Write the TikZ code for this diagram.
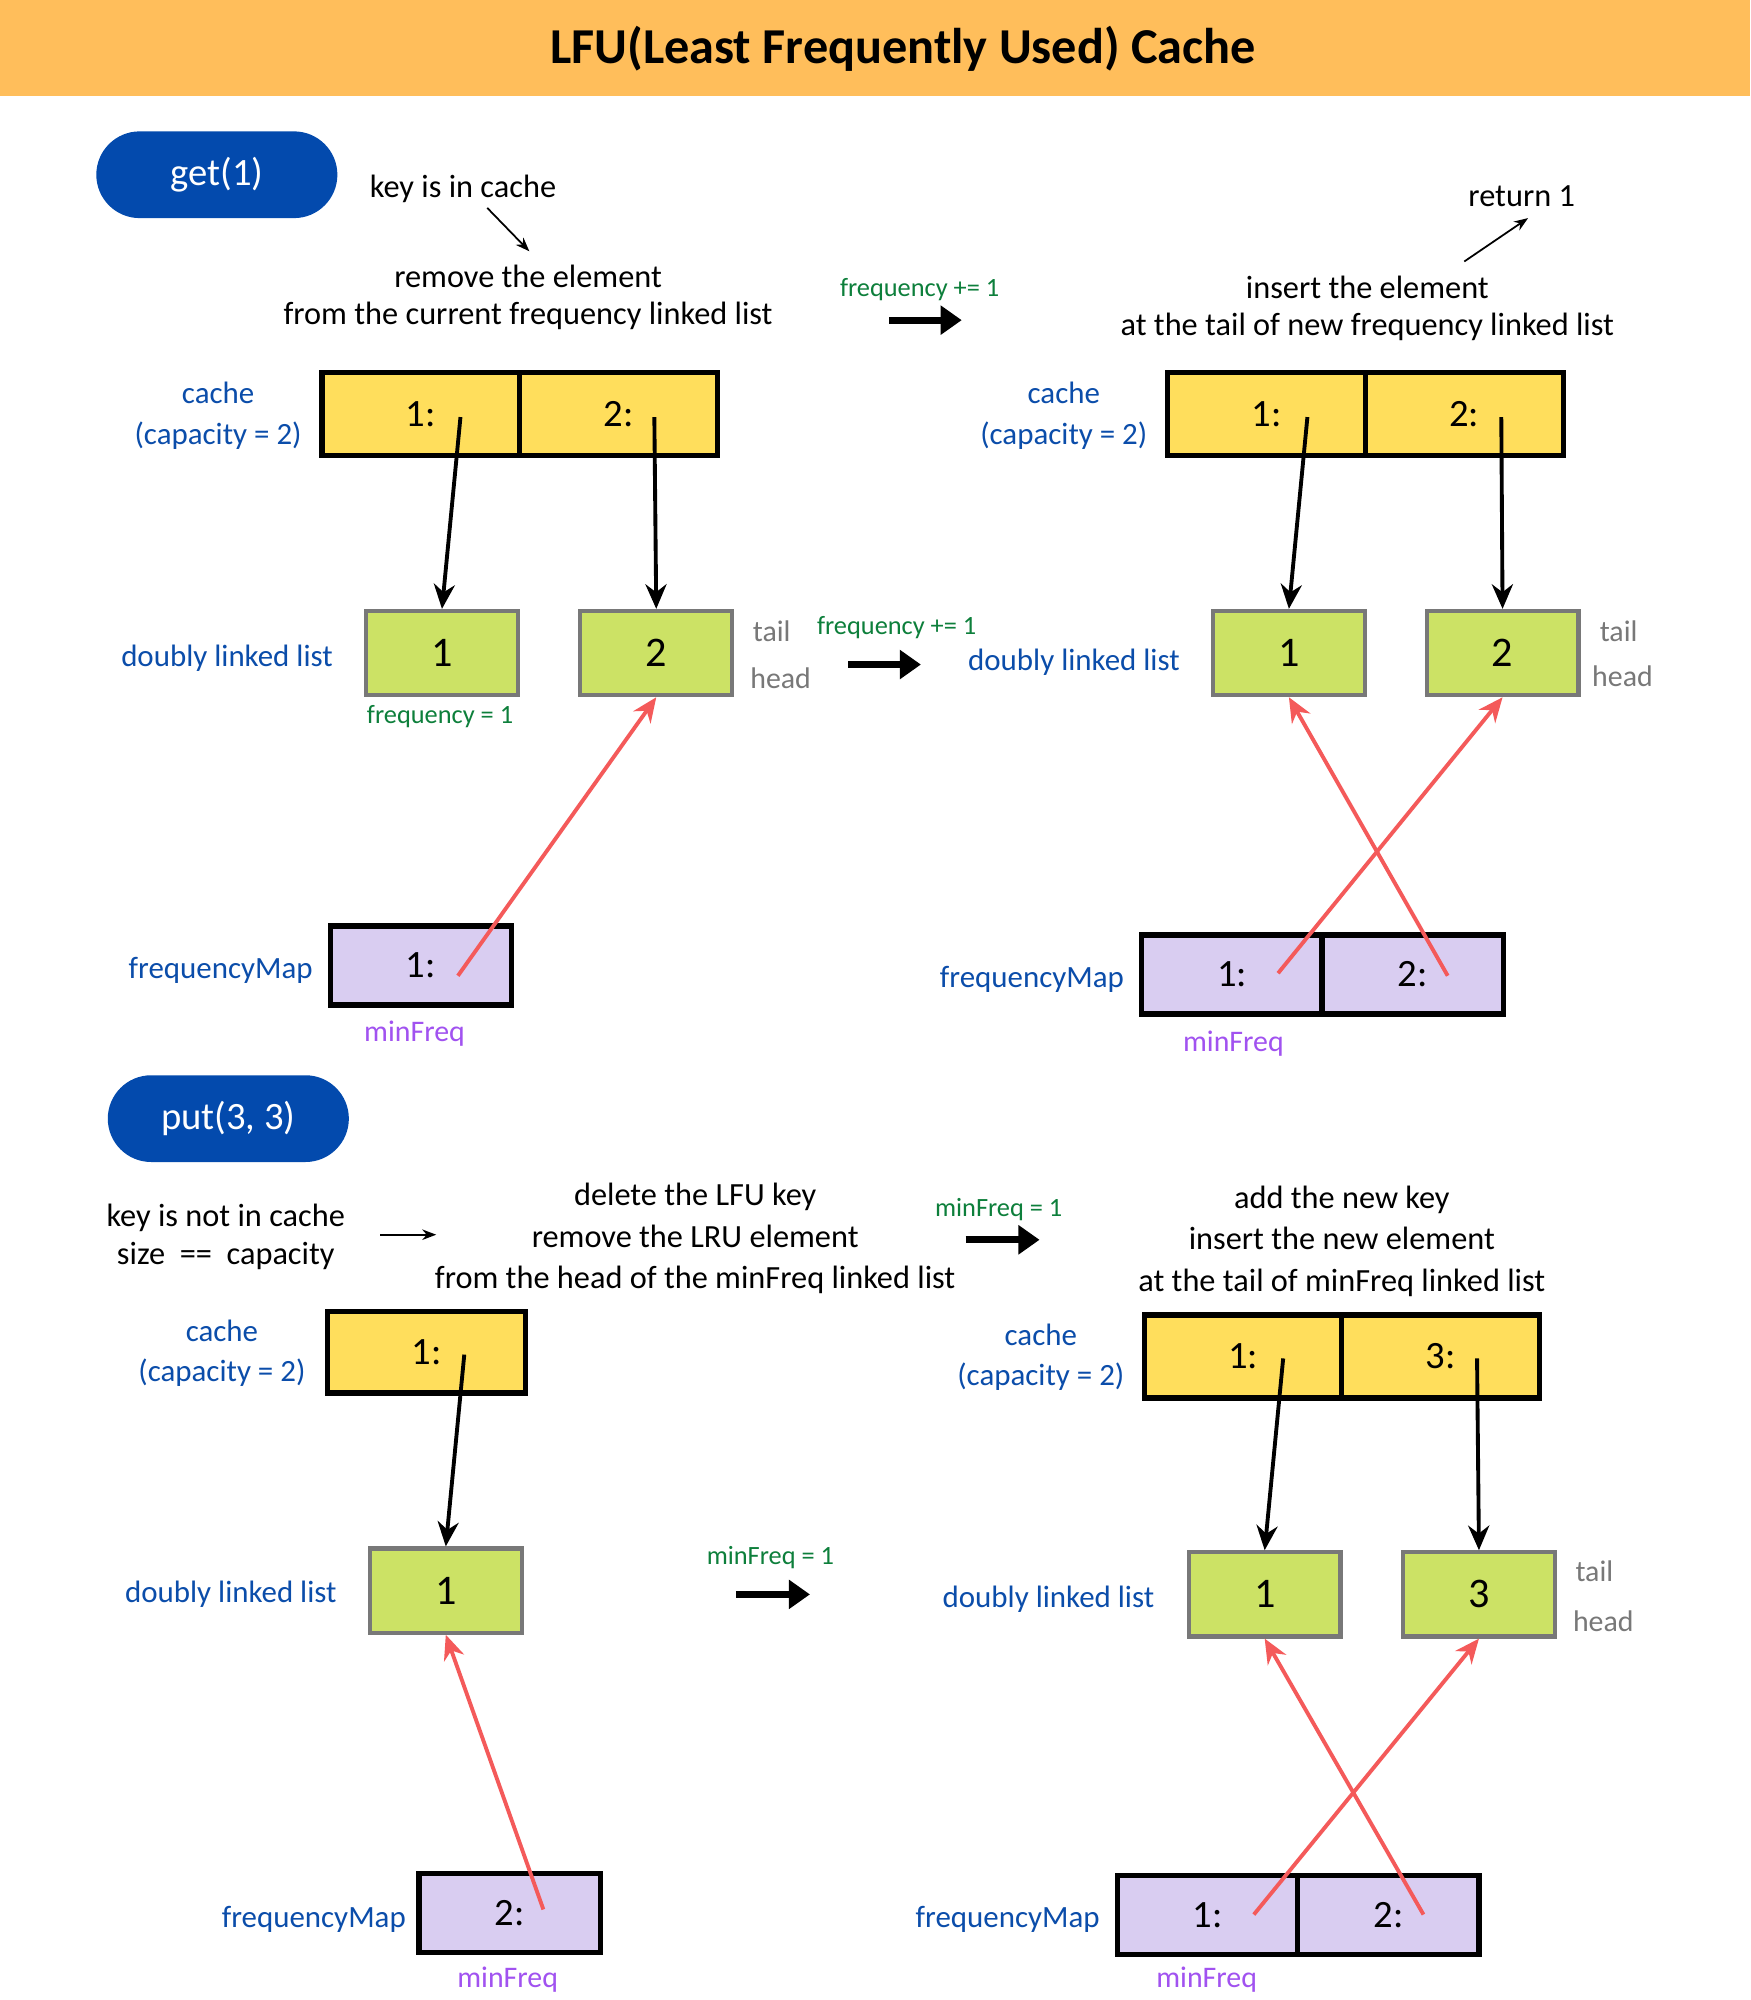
\documentclass[tikz,border=0pt]{standalone}
\usepackage{fontspec}
\setmainfont{Carlito}
\usetikzlibrary{arrows.meta}
\definecolor{banner}{HTML}{FFBE5B}
\definecolor{pillblue}{HTML}{034AAD}
\definecolor{labelblue}{HTML}{0B4DAA}
\definecolor{cacheyellow}{HTML}{FFDE5C}
\definecolor{listgreen}{HTML}{CCE265}
\definecolor{listgray}{HTML}{787878}
\definecolor{mappurple}{HTML}{D9CDF1}
\definecolor{minpurple}{HTML}{A152F0}
\definecolor{notegreen}{HTML}{0D7F3B}
\definecolor{ptrred}{HTML}{F45A5A}
\newcommand{\unitpx}{0.012755cm}
\begin{document}
\begin{tikzpicture}
  [x=0.012755cm, y=-0.012755cm,
   every node/.style={inner sep=0pt, font=\fontsize{9.2}{10.4}\selectfont},
   cachecell/.style={draw, line width=1.5pt, fill=cacheyellow, minimum width=155*\unitpx, minimum height=65*\unitpx, font=\fontsize{11}{12}\selectfont},
   listbox/.style={draw=listgray, line width=1.2pt, fill=listgreen, minimum width=119*\unitpx, minimum height=66*\unitpx, font=\fontsize{12}{13}\selectfont},
   mapcell/.style={draw, line width=1.5pt, fill=mappurple, minimum width=142*\unitpx, minimum height=62*\unitpx, font=\fontsize{11}{12}\selectfont},
   label/.style={text=labelblue, align=center, font=\fontsize{8.8}{11.5}\selectfont},
   note/.style={align=center},
   freqnote/.style={text=notegreen, font=\fontsize{7.5}{9}\selectfont},
   minnote/.style={text=minpurple, font=\fontsize{8.5}{10}\selectfont},
   side/.style={text=listgray, font=\fontsize{8.5}{10}\selectfont},
   pill/.style={fill=pillblue, text=white, rounded corners=34*\unitpx, minimum width=189*\unitpx, minimum height=68*\unitpx, font=\fontsize{11}{12}\selectfont},
   ptr/.style={-{Stealth[length=7pt,width=6pt]}, line width=1.1pt},
   mapptr/.style={-{Stealth[length=7pt,width=6pt]}, line width=1.1pt, draw=ptrred},
   thin/.style={-{Stealth[length=4pt,width=3pt]}, line width=0.5pt},
   bigarrow/.style={-{Triangle[length=6pt,width=8pt]}, line width=2pt}]
  \useasboundingbox (0,0) rectangle (1372,1568);
  \fill[white] (0,0) rectangle (1372,1568);
  \fill[banner] (0,0) rectangle (1372,75);
  \node[font=\fontsize{14.3}{16}\bfseries] (title) at (708,38) {LFU(Least Frequently Used) Cache};

  % get(1)
  \node[pill] (get) at (170,137) {get(1)};
  \node[note] (inc) at (363,148) {key is in cache};
  \coordinate (inc1) at (382,163);
  \coordinate (inc2) at (415,197);
  \draw[thin] (inc1) -- (inc2);
  \node[note, font=\fontsize{9.2}{10.6}\selectfont] (rem) at (414,233) {remove the element\\from the current frequency linked list};
  \node[freqnote] (fq1) at (721,227) {frequency += 1};
  \coordinate (fa1) at (697,251);
  \coordinate (fa2) at (754,251);
  \draw[bigarrow] (fa1) -- (fa2);
  \node[note] (ret) at (1193,154) {return 1};
  \coordinate (ret1) at (1148,205);
  \coordinate (ret2) at (1198,171);
  \draw[thin] (ret1) -- (ret2);
  \node[note, font=\fontsize{9.2}{10.6}\selectfont] (ins) at (1072,242) {insert the element\\at the tail of new frequency linked list};

  % get(1), before
  \node[label] (cl1) at (171,326) {cache\\(capacity = 2)};
  \node[cachecell] (a1) at (330,324.5) {1:};
  \node[cachecell] (a2) at (485,324.5) {2:};
  \coordinate (a1p) at (361,327);
  \coordinate (a2p) at (513,327);
  \node[label] (dl1) at (178,516) {doubly linked list};
  \node[listbox] (b1) at (346.5,512) {1};
  \node[listbox] (b2) at (514.5,512) {2};
  \node[side] (t1) at (605,495) {tail};
  \node[side] (h1) at (612,532) {head};
  \node[freqnote] (fb1) at (345,562) {frequency = 1};
  \node[label] (fm1) at (173,761) {frequencyMap};
  \node[mapcell] (m1) at (330,757) {1:};
  \coordinate (m1p) at (359,765);
  \node[minnote] (mf1) at (325,810) {minFreq};
  \foreach \from/\to in {a1p/b1, a2p/b2}
    \draw[ptr] (\from) -- (\to.north);
  \draw[mapptr] (m1p) -- (b2.south);

  \node[freqnote] (fq2) at (703,492) {frequency += 1};
  \coordinate (fb2a) at (665,521);
  \coordinate (fb2b) at (722,521);
  \draw[bigarrow] (fb2a) -- (fb2b);

  % get(1), after
  \node[label] (cl2) at (834,326) {cache\\(capacity = 2)};
  \node[cachecell] (c1) at (993,324.5) {1:};
  \node[cachecell] (c2) at (1148,324.5) {2:};
  \coordinate (c1p) at (1025,327);
  \coordinate (c2p) at (1177,327);
  \node[label] (dl2) at (842,519) {doubly linked list};
  \node[listbox] (d1) at (1010.5,512) {1};
  \node[listbox] (d2) at (1178,512) {2};
  \node[side] (t2) at (1269,495) {tail};
  \node[side] (h2) at (1272,530) {head};
  \node[label] (fm2) at (809,768) {frequencyMap};
  \node[mapcell] (e1) at (966,764) {1:};
  \node[mapcell] (e2) at (1107.5,764) {2:};
  \coordinate (e1p) at (1002,763);
  \coordinate (e2p) at (1135,765);
  \node[minnote] (mf2) at (967,818) {minFreq};
  \foreach \from/\to in {c1p/d1, c2p/d2}
    \draw[ptr] (\from) -- (\to.north);
  \foreach \from/\to in {e1p/d2, e2p/d1}
    \draw[mapptr] (\from) -- (\to.south);

  % put(3, 3)
  \node[pill] (put) at (179,877) {put(3, 3)};
  \node[note, font=\fontsize{9.2}{10.8}\selectfont] (nic) at (177,970) {key is not in cache\\size~~==~~capacity};
  \coordinate (nic1) at (298,968);
  \coordinate (nic2) at (342,968);
  \draw[thin] (nic1) -- (nic2);
  \node[note, font=\fontsize{9.2}{11.8}\selectfont] (del) at (545,971) {delete the LFU key\\remove the LRU element\\from the head of the minFreq linked list};
  \node[freqnote] (mq1) at (783,948) {minFreq = 1};
  \coordinate (mq1a) at (757,972);
  \coordinate (mq1b) at (815,972);
  \draw[bigarrow] (mq1a) -- (mq1b);
  \node[note, font=\fontsize{9.2}{11.8}\selectfont] (add) at (1052,973) {add the new key\\insert the new element\\at the tail of minFreq linked list};

  % put(3, 3), after delete
  \node[label] (cl3) at (174,1061) {cache\\(capacity = 2)};
  \node[cachecell, minimum height=64*\unitpx] (g1) at (334.5,1060) {1:};
  \coordinate (g1p) at (364,1062);
  \node[label] (dl3) at (181,1250) {doubly linked list};
  \node[listbox] (h1) at (349.5,1247) {1};
  \node[label] (fm3) at (246,1505) {frequencyMap};
  \node[mapcell] (k1) at (399.5,1500) {2:};
  \coordinate (k1p) at (426,1497);
  \node[minnote] (mf3) at (398,1552) {minFreq};
  \draw[ptr] (g1p) -- (h1.north);
  \draw[mapptr] (k1p) -- (h1.south);

  \node[freqnote] (mq2) at (604,1221) {minFreq = 1};
  \coordinate (mq2a) at (577,1250);
  \coordinate (mq2b) at (635,1250);
  \draw[bigarrow] (mq2a) -- (mq2b);

  % put(3, 3), after insert
  \node[label] (cl4) at (816,1064) {cache\\(capacity = 2)};
  \node[cachecell] (p1) at (974.5,1063.5) {1:};
  \node[cachecell] (p2) at (1129.5,1063.5) {3:};
  \coordinate (p1p) at (1006,1065);
  \coordinate (p2p) at (1158,1065);
  \node[label] (dl4) at (822,1254) {doubly linked list};
  \node[listbox] (q1) at (991.5,1250) {1};
  \node[listbox] (q2) at (1159.5,1250) {3};
  \node[side] (t4) at (1250,1232) {tail};
  \node[side] (h4) at (1257,1271) {head};
  \node[label] (fm4) at (790,1505) {frequencyMap};
  \node[mapcell] (r1) at (947,1501.5) {1:};
  \node[mapcell] (r2) at (1088.5,1501.5) {2:};
  \coordinate (r1p) at (983,1501);
  \coordinate (r2p) at (1116,1501);
  \node[minnote] (mf4) at (946,1552) {minFreq};
  \foreach \from/\to in {p1p/q1, p2p/q2}
    \draw[ptr] (\from) -- (\to.north);
  \foreach \from/\to in {r1p/q2, r2p/q1}
    \draw[mapptr] (\from) -- (\to.south);
\end{tikzpicture}
\end{document}
